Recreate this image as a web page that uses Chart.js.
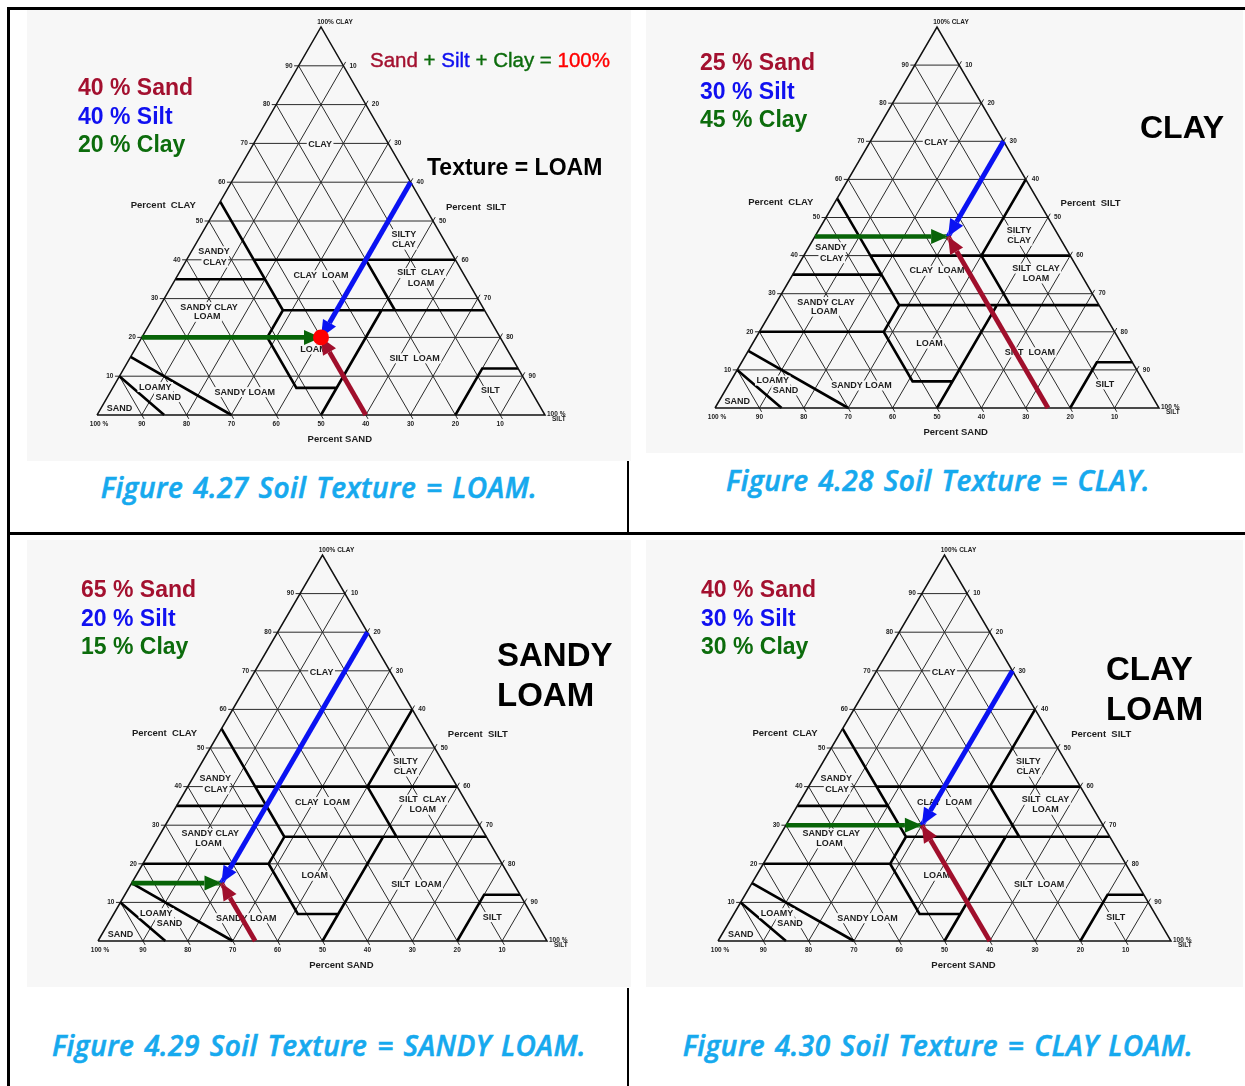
<!DOCTYPE html>
<html>
<head>
<meta charset="utf-8">
<script src="https://cdn.jsdelivr.net/npm/chart.js@4.4.1/dist/chart.umd.min.js"></script>
<style>
  body { margin: 0; background: #fff; font-family: "Liberation Sans", Arial, sans-serif; }
  #page { position: relative; width: 1245px; height: 1086px; overflow: hidden; background: #fff; }
  .rule { position: absolute; background: #000; }
  .panel { position: absolute; background: #f7f7f7; }
  .txt { position: absolute; font-weight: bold; white-space: nowrap; }
  .cap { position: absolute; width: 620px; text-align: center; white-space: nowrap;
         font-family: "Open Sans", sans-serif; font-style: italic; font-weight: 600;
         font-size: 28px; line-height: 36px; letter-spacing: 0.5px; word-spacing: 2px; color: #16a9ee;
         -webkit-text-stroke: 0.6px #16a9ee; }
</style>
</head>
<body>
<div id="page">
  <div class="rule" style="left:7px;top:7px;width:1238px;height:3px"></div>
  <div class="rule" style="left:7px;top:7px;width:3px;height:1079px"></div>
  <div class="rule" style="left:7px;top:532px;width:1238px;height:3px"></div>
  <div class="rule" style="left:627px;top:461px;width:2px;height:72px"></div>
  <div class="rule" style="left:627px;top:988px;width:2px;height:98px"></div>
</div>
<script>
// soil samples shown in the four figures
const SAND = [40, 25, 65, 40];
const SILT = [40, 30, 20, 30];
const CLAY = [20, 45, 15, 30];
const MARKED = [true, false, false, false];
const FIGURE = ['4.27', '4.28', '4.29', '4.30'];
const TEXTURE = ['LOAM', 'CLAY', 'SANDY LOAM', 'CLAY LOAM'];
const TEXTURE_LINES = [['Texture = LOAM'], ['CLAY'], ['SANDY', 'LOAM'], ['CLAY', 'LOAM']];

// grid every 10 %
const TICKS = [10, 20, 30, 40, 50, 60, 70, 80, 90];

// USDA texture class boundaries, vertices as [sand, clay]
const BOUNDARIES = [
  [[85, 0], [90, 10]],
  [[70, 0], [85, 15]],
  [[80, 20], [52, 20], [52, 7], [43, 7]],
  [[50, 0], [23, 27]],
  [[52, 20], [45, 27], [45, 55]],
  [[65, 35], [45, 35]],
  [[45, 27], [0, 27]],
  [[45, 40], [0, 40]],
  [[20, 27], [20, 40]],
  [[20, 40], [0, 60]],
  [[20, 0], [8, 12], [0, 12]]
];

// class names at [x along the base, clay]
const REGION_NAMES = [
  ['CLAY', 49.8, 69.6],
  ['SILTY', 68.5, 46.6], ['CLAY', 68.5, 43.9],
  ['SANDY', 26.1, 42.2], ['CLAY', 26.3, 39.3],
  ['CLAY  LOAM', 50, 36],
  ['SILT  CLAY', 72.3, 36.6], ['LOAM', 72.3, 34],
  ['SANDY CLAY', 25, 27.8], ['LOAM', 24.6, 25.3],
  ['LOAM', 48.3, 16.9],
  ['SILT  LOAM', 70.9, 14.6],
  ['SILT', 87.8, 6.2],
  ['LOAMY', 13, 7.2], ['SAND', 15.9, 4.6],
  ['SAND', 5, 1.8],
  ['SANDY LOAM', 33, 5.9]
];
const AXIS_TITLES = [['Percent  CLAY', 14.8, 53.9], ['Percent  SILT', 84.6, 53.6], ['Percent SAND', 54.2, -6.4]];

const LAYOUT = [
  {x: 27, y: 10, w: 604, h: 451, pad: {left: 70, right: 86, top: 17, bottom: 46}, cx: 319, capY: 487,
   mix: [78, 73], tex: [427, 155], texSize: 23, texLine: 24},
  {x: 646, y: 10, w: 597, h: 443, pad: {left: 69, right: 84, top: 17, bottom: 45}, cx: 938, capY: 480,
   mix: [700, 48], tex: [1140, 107], texSize: 32, texLine: 40},
  {x: 27, y: 540, w: 604, h: 447, pad: {left: 71, right: 84, top: 15, bottom: 46}, cx: 319, capY: 1045,
   mix: [81, 575], tex: [497, 635], texSize: 33, texLine: 40},
  {x: 646, y: 540, w: 597, h: 447, pad: {left: 72, right: 72, top: 15, bottom: 46}, cx: 938, capY: 1045,
   mix: [701, 575], tex: [1106, 649], texSize: 33, texLine: 40}
];

const COL_SAND = '#a3102f', COL_SILT = '#1010f0', COL_CLAY = '#0c6c0c';
const ARROW_SAND = '#a00f2c', ARROW_SILT = '#0a12f2', ARROW_CLAY = '#086408';
const INK = '#1c1c1c', BG = '#f7f7f7';
const GAP = {x: null, y: null};

function tern(sand, clay) { return {x: 100 - sand - clay / 2, y: clay}; }

function gridData() {
  const e = 1, pts = [];
  TICKS.forEach(t => {
    pts.push({x: t / 2 - e, y: t}, {x: 100 - t / 2, y: t}, GAP);                 // clay
    pts.push({x: 100 - t + e / 2, y: -e}, tern(t, 100 - t), GAP);               // sand
    pts.push({x: t, y: 0}, {x: t + (100 - t + e) / 2, y: 100 - t + e}, GAP);    // silt
  });
  return pts;
}

function boundaryData() {
  const pts = [];
  BOUNDARIES.forEach(line => { line.forEach(([s, c]) => pts.push(tern(s, c))); pts.push(GAP); });
  return pts;
}

function headPoints(els, len, wid) {
  const a = els[els.length - 2], b = els[els.length - 1];
  const dx = b.x - a.x, dy = b.y - a.y, d = Math.hypot(dx, dy);
  const ux = dx / d, uy = dy / d;
  const bx = b.x - ux * len, by = b.y - uy * len;
  return [{x: b.x, y: b.y}, {x: bx - uy * wid / 2, y: by + ux * wid / 2}, {x: bx + uy * wid / 2, y: by - ux * wid / 2}];
}

function drawLabels(chart) {
  const ctx = chart.ctx, xs = chart.scales.x, ys = chart.scales.y;
  const px = (x, y) => [xs.getPixelForValue(x), ys.getPixelForValue(y)];
  ctx.save();
  ctx.textBaseline = 'middle';
  ctx.font = 'bold 9px "Liberation Sans", Arial';
  ctx.textAlign = 'center';
  REGION_NAMES.forEach(([t, x, y]) => {
    const [X, Y] = px(x, y);
    const w = ctx.measureText(t).width;
    ctx.fillStyle = BG;
    ctx.fillRect(X - w / 2 - 1.5, Y - 5, w + 3, 10);
    ctx.fillStyle = INK;
    ctx.fillText(t, X, Y);
  });
  ctx.fillStyle = INK;
  ctx.font = 'bold 9.5px "Liberation Sans", Arial';
  AXIS_TITLES.forEach(([t, x, y]) => { const [X, Y] = px(x, y); ctx.fillText(t, X, Y); });
  ctx.font = 'bold 6.5px "Liberation Sans", Arial';
  TICKS.forEach(t => {
    let [X, Y] = px(t / 2, t);
    ctx.textAlign = 'right'; ctx.fillText(String(t), X - 6, Y);
    [X, Y] = px(50 + t / 2, 100 - t);
    ctx.textAlign = 'left'; ctx.fillText(String(t), X + 6, Y);
    [X, Y] = px(t, 0);
    ctx.textAlign = 'center'; ctx.fillText(String(100 - t), X, Y + 9);
  });
  let [X, Y] = px(0, 0);
  ctx.textAlign = 'center'; ctx.fillText('100 %', X + 2, Y + 9);
  [X, Y] = px(100, 0);
  ctx.textAlign = 'left'; ctx.fillText('100 %', X + 2, Y - 1); ctx.fillText('SILT', X + 7, Y + 4.5);
  [X, Y] = px(50, 100);
  ctx.textAlign = 'center'; ctx.fillText('100% CLAY', X + 14, Y - 5);
  ctx.restore();
}

const ternaryDecor = {
  id: 'ternaryDecor',
  beforeDatasetDraw(chart, args) {
    const ds = chart.data.datasets[args.index];
    if (!ds.arrow) return;
    const h = headPoints(args.meta.data, 17, 15);
    const ctx = chart.ctx;
    ctx.save();
    ctx.beginPath();
    ctx.rect(0, 0, chart.width, chart.height);
    ctx.moveTo(h[0].x, h[0].y); ctx.lineTo(h[1].x, h[1].y); ctx.lineTo(h[2].x, h[2].y); ctx.closePath();
    ctx.clip('evenodd');
  },
  afterDatasetDraw(chart, args) {
    const ds = chart.data.datasets[args.index];
    const ctx = chart.ctx;
    if (ds.arrow) {
      ctx.restore();
      const h = headPoints(args.meta.data, 17, 15);
      ctx.save();
      ctx.fillStyle = ds.borderColor;
      ctx.beginPath();
      ctx.moveTo(h[0].x, h[0].y); ctx.lineTo(h[1].x, h[1].y); ctx.lineTo(h[2].x, h[2].y); ctx.closePath();
      ctx.fill();
      ctx.restore();
    }
    if (ds.decorate) drawLabels(chart);
  }
};

const page = document.getElementById('page');

function addText(html, left, top, style) {
  const d = document.createElement('div');
  d.className = 'txt';
  d.style.cssText = `left:${left}px;top:${top}px;` + style;
  d.innerHTML = html;
  page.appendChild(d);
}

LAYOUT.forEach((L, i) => {
  const panel = document.createElement('div');
  panel.className = 'panel';
  panel.style.cssText = `left:${L.x}px;top:${L.y}px;width:${L.w}px;height:${L.h}px`;
  const canvas = document.createElement('canvas');
  panel.appendChild(canvas);
  page.appendChild(panel);

  const s = SAND[i], c = CLAY[i], t = SILT[i];
  const point = tern(s, c);
  const line = {showLine: true, pointRadius: 0, clip: false, fill: false, tension: 0};

  new Chart(canvas, {
    type: 'scatter',
    data: {
      datasets: [
        {data: MARKED[i] ? [point] : [], pointRadius: 8, backgroundColor: '#ff0000', borderWidth: 0, clip: false},
        {...line, arrow: true, data: [tern(s, 0), point], borderColor: ARROW_SAND, borderWidth: 4.8},
        {...line, arrow: true, data: [tern(0, 100 - t), point], borderColor: ARROW_SILT, borderWidth: 5},
        {...line, arrow: true, data: [tern(100 - c, c), point], borderColor: ARROW_CLAY, borderWidth: 4.6},
        {...line, decorate: true, data: [tern(100, 0), tern(0, 0), tern(0, 100), tern(100, 0)], borderColor: '#111', borderWidth: 1.5},
        {...line, data: boundaryData(), borderColor: '#000', borderWidth: 2.6},
        {...line, data: gridData(), borderColor: '#2a2a2a', borderWidth: 1}
      ]
    },
    options: {
      responsive: true,
      maintainAspectRatio: false,
      animation: false,
      events: [],
      layout: {padding: L.pad},
      scales: {
        x: {type: 'linear', min: 0, max: 100, display: false},
        y: {type: 'linear', min: 0, max: 100, display: false}
      },
      plugins: {legend: {display: false}, tooltip: {enabled: false}}
    },
    plugins: [ternaryDecor]
  });

  addText(`<span style="color:${COL_SAND}">${s} % Sand</span><br><span style="color:${COL_SILT}">${t} % Silt</span><br><span style="color:${COL_CLAY}">${c} % Clay</span>`,
    L.mix[0], L.mix[1], 'font-size:23px;line-height:28.5px;');
  addText(TEXTURE_LINES[i].join('<br>'), L.tex[0], L.tex[1],
    `font-size:${L.texSize}px;line-height:${L.texLine}px;color:#000;`);
  if (i === 0) {
    addText(`<span style="color:${COL_SAND}">Sand</span> <span style="color:${COL_CLAY}">+</span> <span style="color:${COL_SILT}">Silt</span> <span style="color:${COL_CLAY}">+ Clay =</span> <span style="color:#ff0000">100%</span>`,
      370, 48, 'font-weight:normal;font-size:20.5px;line-height:24px;-webkit-text-stroke:0.4px currentColor;');
  }
  const cap = document.createElement('div');
  cap.className = 'cap';
  cap.style.left = (L.cx - 310) + 'px';
  cap.style.top = (L.capY - 18) + 'px';
  cap.textContent = `Figure ${FIGURE[i]} Soil Texture = ${TEXTURE[i]}.`;
  page.appendChild(cap);
});
</script>
</body>
</html>
